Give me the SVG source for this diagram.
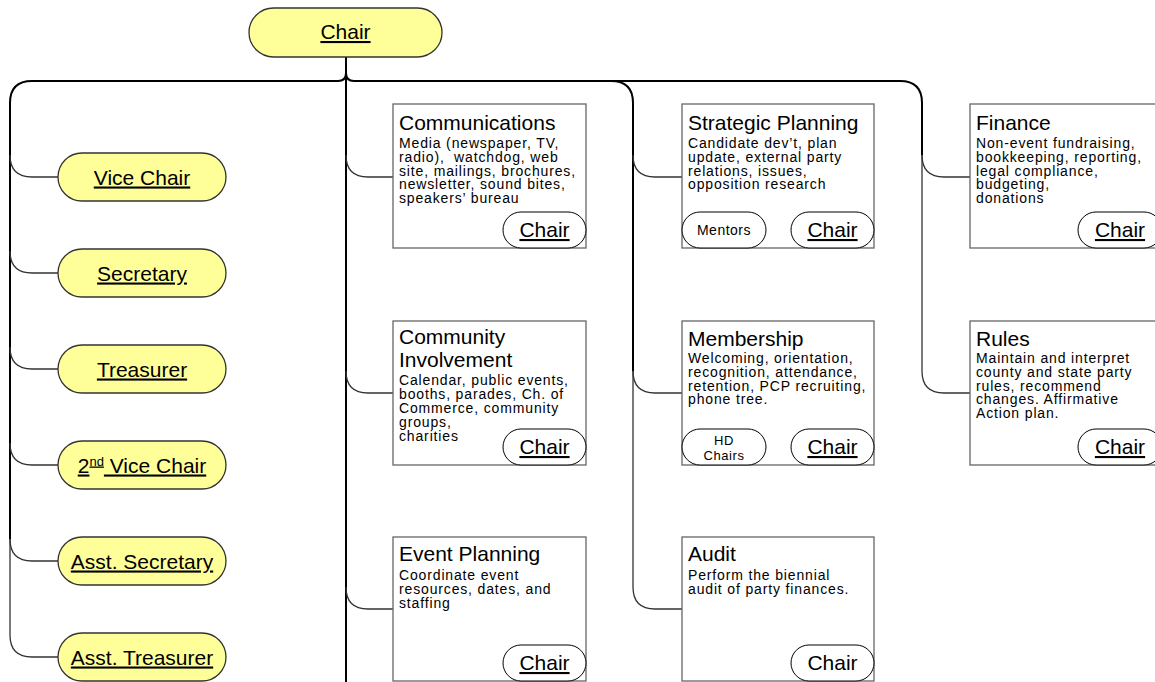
<svg xmlns="http://www.w3.org/2000/svg" width="1155" height="682" viewBox="0 0 1155 682">
<style>
.trunk{fill:none;stroke:#000;stroke-width:2}
.br{fill:none;stroke:#333;stroke-width:1.3}
.off{fill:#FFFF99;stroke:#333;stroke-width:1.3}
.box{fill:#fff;stroke:#666;stroke-width:1.3}
.pill{fill:#fff;stroke:#000;stroke-width:1}
text{font-family:"Liberation Sans",Arial,sans-serif;fill:#000}
.lbl{font-size:21px;text-anchor:middle;text-decoration:underline}
.plain{font-size:21px;text-anchor:middle}
.ttl{font-size:21px}
.desc{font-size:14px;letter-spacing:0.85px;white-space:pre}
.sm{font-size:14px;text-anchor:middle;letter-spacing:0.5px}
.xs{font-size:13px;text-anchor:middle;letter-spacing:0.6px}
</style>
<rect width="1155" height="682" fill="#fff"/>
<g id="connectors">
<path class="trunk" d="M346,57 V682"/>
<path class="trunk" d="M346,73 Q346,81 338,81 H32 Q10,81 10,103 V539"/>
<path class="trunk" d="M346,73 Q346,81 354,81 H900 Q922,81 922,103 V155"/>
<path class="trunk" d="M611,81 Q633,81 633,103 V371"/>
<path class="br" d="M10,155 Q10,177 32,177 H58"/>
<path class="br" d="M10,251 Q10,273 32,273 H58"/>
<path class="br" d="M10,347 Q10,369 32,369 H58"/>
<path class="br" d="M10,443 Q10,465 32,465 H58"/>
<path class="br" d="M10,539 Q10,561 32,561 H58"/>
<path class="br" d="M10,539 V635 Q10,657 32,657 H58"/>
<path class="br" d="M346,155 Q346,177 368,177 H393"/>
<path class="br" d="M346,371 Q346,393 368,393 H393"/>
<path class="br" d="M346,587 Q346,609 368,609 H393"/>
<path class="br" d="M633,155 Q633,177 655,177 H682"/>
<path class="br" d="M633,371 Q633,393 655,393 H682"/>
<path class="br" d="M633,371 V587 Q633,609 655,609 H682"/>
<path class="br" d="M922,155 Q922,177 944,177 H970"/>
<path class="br" d="M922,155 V371 Q922,393 944,393 H970"/>
</g>
<g id="chair">
<rect class="off" x="249" y="8" width="193" height="49" rx="24.5"/>
<text class="lbl" x="345.5" y="39">Chair</text>
</g>
<g id="vice-chair">
<rect class="off" x="58" y="153" width="168" height="48" rx="24"/>
<text class="lbl" x="142" y="184.5">Vice Chair</text>
</g>
<g id="secretary">
<rect class="off" x="58" y="249" width="168" height="48" rx="24"/>
<text class="lbl" x="142" y="280.5">Secretary</text>
</g>
<g id="treasurer">
<rect class="off" x="58" y="345" width="168" height="48" rx="24"/>
<text class="lbl" x="142" y="376.5">Treasurer</text>
</g>
<g id="second-vice-chair">
<rect class="off" x="58" y="441" width="168" height="48" rx="24"/>
<text class="lbl" x="142" y="472.5">2<tspan font-size="13" dy="-7">nd</tspan><tspan dy="7"> Vice Chair</tspan></text>
</g>
<g id="asst-secretary">
<rect class="off" x="58" y="537" width="168" height="48" rx="24"/>
<text class="lbl" x="142" y="568.5">Asst. Secretary</text>
</g>
<g id="asst-treasurer">
<rect class="off" x="58" y="633" width="168" height="48" rx="24"/>
<text class="lbl" x="142" y="664.5">Asst. Treasurer</text>
</g>
<g id="communications">
<rect class="box" x="393" y="104" width="193" height="144"/>
<text class="ttl" x="399" y="130">Communications</text>
<text class="desc" x="399" y="148">Media (newspaper, TV,</text>
<text class="desc" x="399" y="161.8">radio),  watchdog, web</text>
<text class="desc" x="399" y="175.6">site, mailings, brochures,</text>
<text class="desc" x="399" y="189.4">newsletter, sound bites,</text>
<text class="desc" x="399" y="203.2">speakers’ bureau</text>
<rect class="pill" x="503" y="212" width="83" height="36" rx="18"/>
<text class="lbl" x="544.5" y="237">Chair</text>
</g>
<g id="strategic-planning">
<rect class="box" x="682" y="104" width="192" height="144"/>
<text class="ttl" x="688" y="130">Strategic Planning</text>
<text class="desc" x="688" y="148">Candidate dev’t, plan</text>
<text class="desc" x="688" y="161.8">update, external party</text>
<text class="desc" x="688" y="175.6">relations, issues,</text>
<text class="desc" x="688" y="189.4">opposition research</text>
<rect class="pill" x="682" y="212" width="84" height="36" rx="18"/>
<text class="sm" x="724" y="235">Mentors</text>
<rect class="pill" x="791" y="212" width="83" height="36" rx="18"/>
<text class="lbl" x="832.5" y="237">Chair</text>
</g>
<g id="finance">
<rect class="box" x="970" y="104" width="192" height="144"/>
<text class="ttl" x="976" y="130">Finance</text>
<text class="desc" x="976" y="148">Non-event fundraising,</text>
<text class="desc" x="976" y="161.8">bookkeeping, reporting,</text>
<text class="desc" x="976" y="175.6">legal compliance,</text>
<text class="desc" x="976" y="189.4">budgeting,</text>
<text class="desc" x="976" y="203.2">donations</text>
<rect class="pill" x="1078" y="212" width="84" height="36" rx="18"/>
<text class="lbl" x="1120" y="237">Chair</text>
</g>
<g id="community-involvement">
<rect class="box" x="393" y="321" width="193" height="144"/>
<text class="ttl" x="399" y="344">Community</text>
<text class="ttl" x="399" y="367">Involvement</text>
<text class="desc" x="399" y="385">Calendar, public events,</text>
<text class="desc" x="399" y="399">booths, parades, Ch. of</text>
<text class="desc" x="399" y="413">Commerce, community</text>
<text class="desc" x="399" y="427">groups,</text>
<text class="desc" x="399" y="441">charities</text>
<rect class="pill" x="503" y="429" width="83" height="36" rx="18"/>
<text class="lbl" x="544.5" y="454">Chair</text>
</g>
<g id="membership">
<rect class="box" x="682" y="321" width="192" height="144"/>
<text class="ttl" x="688" y="346">Membership</text>
<text class="desc" x="688" y="363">Welcoming, orientation,</text>
<text class="desc" x="688" y="376.8">recognition, attendance,</text>
<text class="desc" x="688" y="390.6">retention, PCP recruiting,</text>
<text class="desc" x="688" y="404.4">phone tree.</text>
<rect class="pill" x="682" y="429" width="84" height="36" rx="18"/>
<text class="xs" x="724" y="444.5">HD</text>
<text class="xs" x="724" y="459.5">Chairs</text>
<rect class="pill" x="791" y="429" width="83" height="36" rx="18"/>
<text class="lbl" x="832.5" y="454">Chair</text>
</g>
<g id="rules">
<rect class="box" x="970" y="321" width="192" height="144"/>
<text class="ttl" x="976" y="346">Rules</text>
<text class="desc" x="976" y="363">Maintain and interpret</text>
<text class="desc" x="976" y="376.8">county and state party</text>
<text class="desc" x="976" y="390.6">rules, recommend</text>
<text class="desc" x="976" y="404.4">changes. Affirmative</text>
<text class="desc" x="976" y="418.2">Action plan.</text>
<rect class="pill" x="1078" y="429" width="84" height="36" rx="18"/>
<text class="lbl" x="1120" y="454">Chair</text>
</g>
<g id="event-planning">
<rect class="box" x="393" y="537" width="193" height="144"/>
<text class="ttl" x="399" y="561">Event Planning</text>
<text class="desc" x="399" y="580">Coordinate event</text>
<text class="desc" x="399" y="593.8">resources, dates, and</text>
<text class="desc" x="399" y="607.6">staffing</text>
<rect class="pill" x="503" y="645" width="83" height="36" rx="18"/>
<text class="lbl" x="544.5" y="670">Chair</text>
</g>
<g id="audit">
<rect class="box" x="682" y="537" width="192" height="144"/>
<text class="ttl" x="688" y="561">Audit</text>
<text class="desc" x="688" y="580">Perform the biennial</text>
<text class="desc" x="688" y="593.8">audit of party finances.</text>
<rect class="pill" x="791" y="645" width="83" height="36" rx="18"/>
<text class="plain" x="832.5" y="670">Chair</text>
</g>
</svg>
